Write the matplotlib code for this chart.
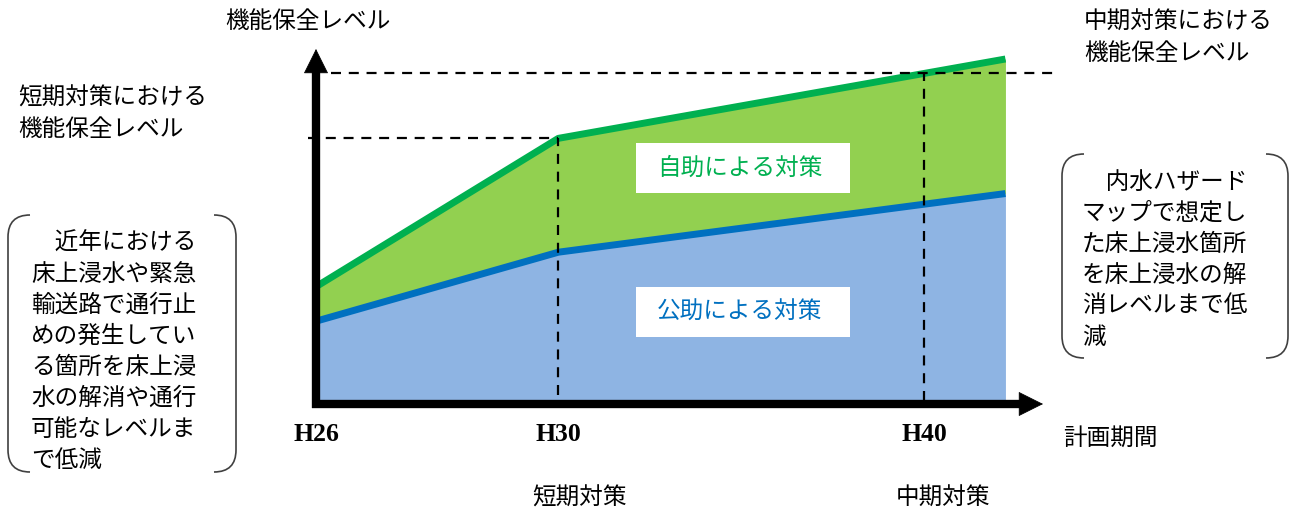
import numpy as np
import matplotlib.pyplot as plt
from matplotlib.path import Path
from matplotlib.patches import PathPatch, Rectangle

plt.rcParams['font.family'] = ['Noto Sans CJK JP', 'DejaVu Sans']

# planning period: start (H26), short-term (H30), end of the mid-term plan
stage_pos = [0.0, 1.0, 2.845]
tick_pos = [0.0, 1.0, 2.51]
tick_labels = ['H26', 'H30', 'H40']

# protection level reached by each kind of measure
self_help = [34, 77, 100]    # 自助
public_help = [24, 44, 61]   # 公助

left_note = ['\u3000近年における', '床上浸水や緊急', '輸送路で通行止', 'めの発生してい',
             'る箇所を床上浸', '水の解消や通行', '可能なレベルま', 'で低減']
right_note = ['\u3000内水ハザード', 'マップで想定し', 'た床上浸水箇所', 'を床上浸水の解',
              '消レベルまで低', '減']

W, H = 1294, 511
fig = plt.figure(figsize=(W / 100, H / 100), dpi=100)

ax = fig.add_axes([316 / W, 1 - 404 / H, 727 / W, 355 / H])
ax.set_xlim(0, 3.0)
ax.set_ylim(0, 102.9)

ax.fill_between(stage_pos, 0, public_help, color='#8EB4E3', lw=0)
ax.fill_between(stage_pos, public_help, self_help, color='#92D050', lw=0)
ax.plot(stage_pos, public_help, color='#0070C0', lw=5, solid_capstyle='butt')
ax.plot(stage_pos, self_help, color='#00B050', lw=5, solid_capstyle='butt')

# guide lines for the short / mid-term levels
short_lv = self_help[1]
mid_lv = np.interp(tick_pos[2], stage_pos, self_help)
dash = dict(color='black', lw=1.6, dashes=(4.5, 3.5), clip_on=False, zorder=3)
ax.plot([-0.035, tick_pos[1]], [short_lv, short_lv], **dash)
ax.plot([tick_pos[1], tick_pos[1]], [2.5, short_lv], **dash)
ax.plot([0.06, 3.04], [mid_lv, mid_lv], **dash)
ax.plot([tick_pos[2], tick_pos[2]], [1, mid_lv], **dash)

# axes drawn as thick arrows
ax.plot([0, 0], [-0.012, 0.95], transform=ax.transAxes, color='black', lw=6,
        clip_on=False, solid_capstyle='butt', zorder=4)
ax.plot([-0.006, 0.97], [0, 0], transform=ax.transAxes, color='black', lw=6,
        clip_on=False, solid_capstyle='butt', zorder=4)
head = dict(arrowstyle='-|>,head_length=1.0,head_width=0.5', mutation_scale=16.6,
            lw=0.5, color='black', shrinkA=0, shrinkB=0)
ax.annotate('', xy=(0, 1), xytext=(0, 0.9), xycoords='axes fraction',
            arrowprops=head, annotation_clip=False, zorder=5)
ax.annotate('', xy=(1, 0), xytext=(0.95, 0), xycoords='axes fraction',
            arrowprops=head, annotation_clip=False, zorder=5)

ax.set_xticks(tick_pos, tick_labels, fontfamily='Liberation Serif', fontweight='bold',
              fontsize=18.5)
ax.tick_params(axis='x', length=0, pad=14)
ax.set_yticks([])
for s in ax.spines.values():
    s.set_visible(False)
ax.patch.set_visible(False)

# overlay in pixel units for the notes
ov = fig.add_axes([0, 0, 1, 1])
ov.set_xlim(0, W)
ov.set_ylim(H, 0)
ov.axis('off')
ov.patch.set_visible(False)

fs = 17
ov.text(225, 22, '機能保全レベル', fontsize=fs, va='center')
ov.text(18, 98, '短期対策における', fontsize=fs, va='center')
ov.text(18, 129, '機能保全レベル', fontsize=fs, va='center')
ov.text(1084, 22, '中期対策における', fontsize=fs, va='center')
ov.text(1084, 53, '機能保全レベル', fontsize=fs, va='center')
ov.text(1063, 438, '計画期間', fontsize=fs, va='center')
ov.text(580, 498, '短期対策', fontsize=fs, va='center', ha='center')
ov.text(943, 498, '中期対策', fontsize=fs, va='center', ha='center')

ov.add_patch(Rectangle((636, 143), 214, 50, fc='white', ec='none'))
ov.text(740, 168, '自助による対策', fontsize=fs, va='center', ha='center', color='#00B050')
ov.add_patch(Rectangle((636, 287), 214, 50, fc='white', ec='none'))
ov.text(740, 312, '公助による対策', fontsize=fs, va='center', ha='center', color='#0070C0')


def bracket(x0, y0, x1, y1, r=22):
    codes = [Path.MOVETO, Path.CURVE3, Path.CURVE3, Path.LINETO, Path.CURVE3, Path.CURVE3]
    left = [(x0 + r, y0), (x0, y0), (x0, y0 + r), (x0, y1 - r), (x0, y1), (x0 + r, y1)]
    right = [(x1 - r, y0), (x1, y0), (x1, y0 + r), (x1, y1 - r), (x1, y1), (x1 - r, y1)]
    for pts in (left, right):
        ov.add_patch(PathPatch(Path(pts, codes), fc='none', ec='#404040', lw=1.2))


bracket(8, 215, 236, 472)
for i, line in enumerate(left_note):
    ov.text(31, 243 + 31 * i, line, fontsize=fs, va='center')

bracket(1062, 154, 1288, 358)
for i, line in enumerate(right_note):
    ov.text(1082, 182 + 31 * i, line, fontsize=fs, va='center')

fig.savefig('out.png', dpi=100)
